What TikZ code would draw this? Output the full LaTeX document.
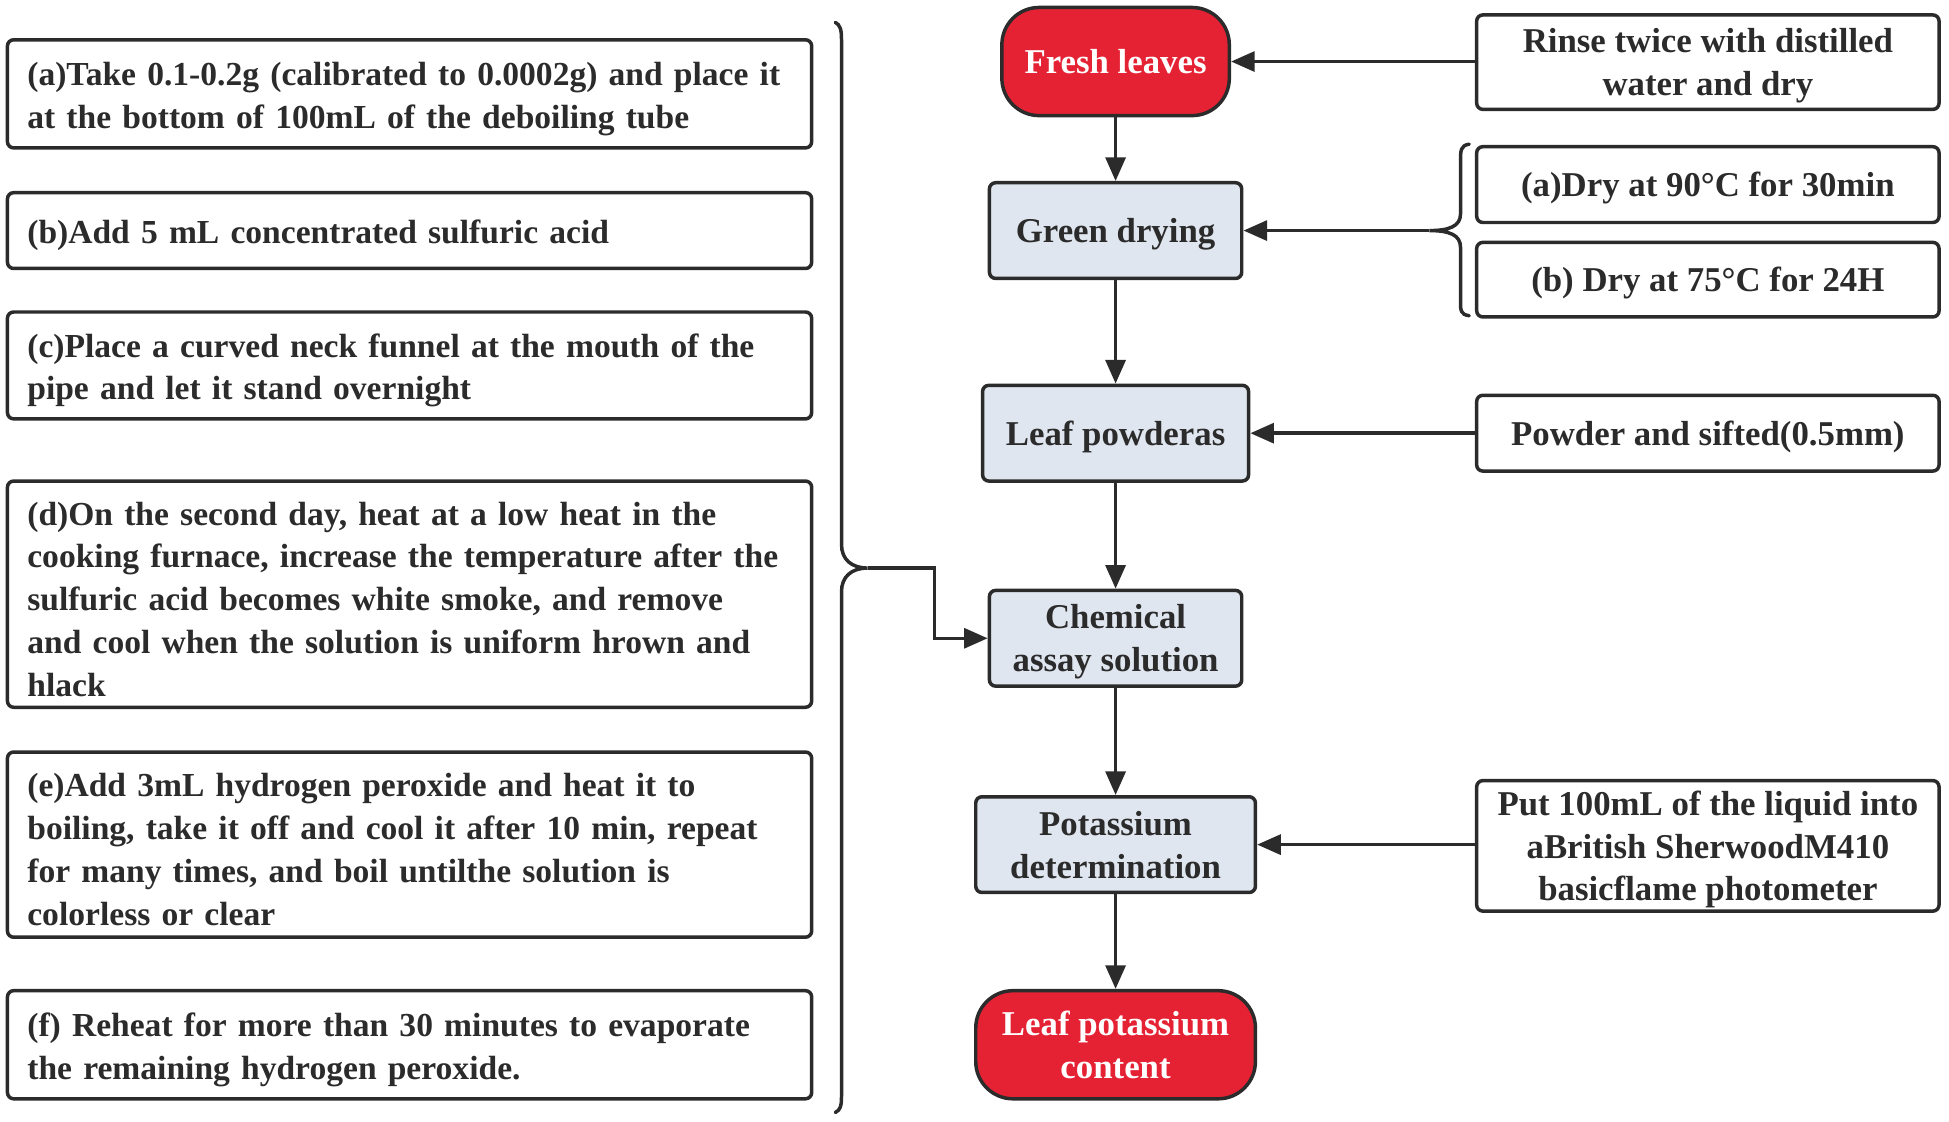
\documentclass[tikz,border=0pt]{standalone}
\usepackage{fontspec}
\setmainfont{Liberation Serif}
\usetikzlibrary{arrows.meta}
\definecolor{dk}{HTML}{2B2B2B}
\definecolor{redf}{HTML}{E52234}
\definecolor{bluef}{HTML}{E0E6EF}
\begin{document}
\begin{tikzpicture}[x=1pt,y=-1pt,
  base/.style={draw=dk, line width=2.8pt, font=\fontsize{28}{34.5}\selectfont\bfseries, inner sep=0pt, text=dk},
  lbox/.style={base, fill=white, rounded corners=5pt, minimum width=647pt, text width=615pt, align=left, font=\fontsize{27}{34.5}\selectfont\bfseries, execute at begin node={\rule{0pt}{27pt}}},
  rbox/.style={base, text depth=0pt, fill=white, rounded corners=5pt, minimum width=372pt, align=center},
  fbox/.style={base, text depth=0pt, fill=bluef, rounded corners=5pt, align=center},
  term/.style={base, text depth=0pt, fill=redf, rounded corners=30pt, text=white, align=center},
  arr/.style={draw=dk, line width=2.8pt, -{Triangle[length=19pt,width=16pt]}},
  brace/.style={draw=dk, line width=2.8pt, line cap=round}
]
\useasboundingbox (0,0) rectangle (1568,902);

% left boxes
\node[lbox, minimum height=87pt] (la) at (329.5,75.5) {(a)Take 0.1-0.2g (calibrated to 0.0002g) and place it\\at the bottom of 100mL of the deboiling tube};
\node[lbox, minimum height=61pt] (lb) at (329.5,185.5) {(b)Add 5 mL concentrated sulfuric acid};
\node[lbox, minimum height=86pt] (lc) at (329.5,294) {(c)Place a curved neck funnel at the mouth of the\\pipe and let it stand overnight};
\node[lbox, minimum height=182pt] (ld) at (329.5,478) {(d)On the second day, heat at a low heat in the\\cooking furnace, increase the temperature after the\\sulfuric acid becomes white smoke, and remove\\and cool when the solution is uniform hrown and\\hlack};
\node[lbox, minimum height=149pt] (le) at (329.5,679.5) {(e)Add 3mL hydrogen peroxide and heat it to\\boiling, take it off and cool it after 10 min, repeat\\for many times, and boil untilthe solution is\\colorless or clear};
\node[lbox, minimum height=87pt] (lf) at (329.5,840.5) {(f) Reheat for more than 30 minutes to evaporate\\the remaining hydrogen peroxide.};

% flow nodes
\node[term, minimum width=183pt, minimum height=87pt] (fresh) at (897.5,49.5) {Fresh leaves};
\node[fbox, minimum width=203pt, minimum height=77pt] (green) at (897.5,185.5) {Green drying};
\node[fbox, minimum width=214pt, minimum height=77pt] (powd) at (897.5,348.5) {Leaf powderas};
\node[fbox, minimum width=203pt, minimum height=77pt] (chem) at (897.5,513.5) {Chemical\\assay solution};
\node[fbox, minimum width=225pt, minimum height=77pt] (pot) at (897.5,679.5) {Potassium\\determination};
\node[term, minimum width=225pt, minimum height=87pt] (leafk) at (897.5,840.5) {Leaf potassium\\content};

% right boxes
\node[rbox, minimum height=76pt] (rinse) at (1374,50) {Rinse twice with distilled\\water and dry};
\node[rbox, minimum height=61pt] (drya) at (1374,148.5) {(a)Dry at 90°C for 30min};
\node[rbox, minimum height=60pt] (dryb) at (1374,225) {(b) Dry at 75°C for 24H};
\node[rbox, minimum height=61pt] (sift) at (1374,348.5) {Powder and sifted(0.5mm)};
\node[rbox, minimum height=105pt] (put) at (1374,680.5) {Put 100mL of the liquid into\\aBritish SherwoodM410\\basicflame photometer};

% vertical arrows
\draw[arr] (fresh) -- (green);
\draw[arr] (green) -- (powd);
\draw[arr] (powd) -- (chem);
\draw[arr] (chem) -- (pot);
\draw[arr] (pot) -- (leafk);

% horizontal arrows
\draw[arr] (rinse.west |- fresh.east) -- (fresh.east);
\draw[arr] (sift.west |- powd.east) -- (powd.east);
\draw[arr] (put.west |- pot.east) -- (pot.east);

% small brace
\coordinate (stip) at (1150,185.5);
\draw[brace] (1182,116) .. controls (1175,117) and (1175,121) .. (1175,130) -- (1175,172)
  .. controls (1175,182) and (1166,185.5) .. (stip)
  .. controls (1166,185.5) and (1175,189) .. (1175,199) -- (1175,242)
  .. controls (1175,250) and (1175,253) .. (1182,254);
\draw[arr] (stip) -- (green.east);

% big brace
\coordinate (btip) at (698,457);
\draw[brace] (672,18) .. controls (676,20) and (677,24) .. (677,32) -- (677,438)
  .. controls (677,450) and (685,457) .. (btip)
  .. controls (685,457) and (677,464) .. (677,476) -- (677,882)
  .. controls (677,890) and (676,893) .. (672,895);
\draw[arr] (btip) -- (752,457) |- (chem.west);
\end{tikzpicture}
\end{document}
